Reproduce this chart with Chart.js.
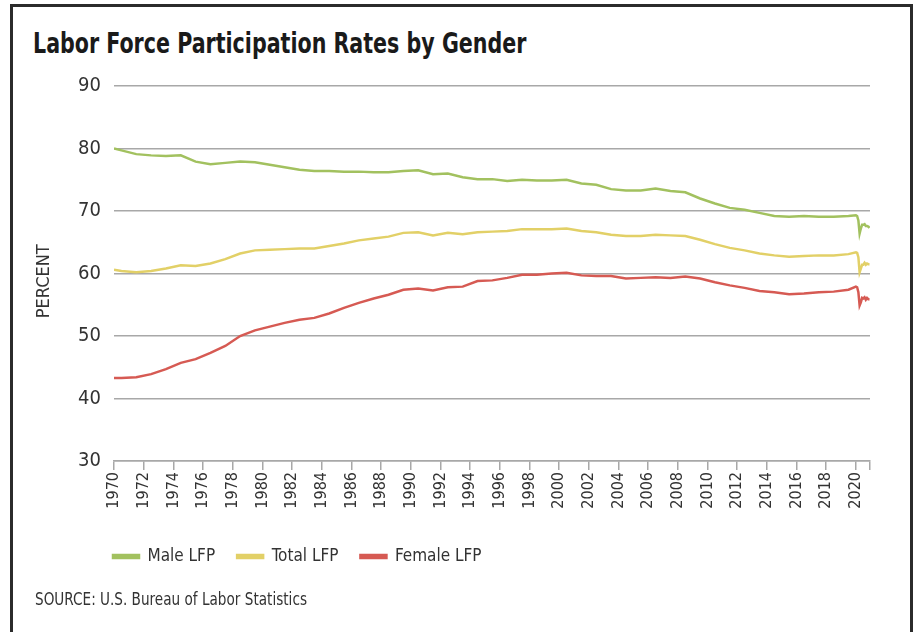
<!DOCTYPE html>
<html lang="en">
<head>
  <meta charset="UTF-8">
  <title>Labor Force Participation Rates by Gender</title>
  <script src="https://cdn.jsdelivr.net/npm/chart.js"></script>
  <style>
    body {
      margin: 0;
      width: 917px;
      height: 632px;
      overflow: hidden;
      background: #fff;
      font-family: 'Liberation Sans Narrow', 'DejaVu Sans Condensed', sans-serif;
      color: #333;
    }
    #frame {
      position: absolute;
      left: 10px;
      top: 4px;
      width: 897px;
      height: 700px;
      border: 3px solid #2b2b2b;
    }
    #title {
      position: absolute;
      left: 33px;
      top: 26px;
      font-size: 29px;
      font-weight: bold;
      color: #1a1a1a;
      margin: 0;
      white-space: nowrap;
      transform: scaleX(0.79);
      transform-origin: left top;
    }
    #source {
      position: absolute;
      left: 35px;
      top: 589px;
      font-size: 17px;
      white-space: nowrap;
      transform: scaleX(0.89);
      transform-origin: left top;
    }
    #wrap {
      position: absolute;
      left: 0;
      top: 0;
      width: 917px;
      height: 632px;
    }
  </style>
</head>
<body>
<div id="frame"></div>
<h1 id="title">Labor Force Participation Rates by Gender</h1>
<div id="wrap"><canvas id="lfp"></canvas></div>
<div id="source">SOURCE: U.S. Bureau of Labor Statistics</div>

<script>
// observation dates (annual averages placed mid-year, monthly for 2020)
const dates = [
  '1970-01',
  '1970-07', '1971-07', '1972-07', '1973-07', '1974-07', '1975-07', '1976-07', '1977-07', '1978-07', '1979-07',
  '1980-07', '1981-07', '1982-07', '1983-07', '1984-07', '1985-07', '1986-07', '1987-07', '1988-07', '1989-07',
  '1990-07', '1991-07', '1992-07', '1993-07', '1994-07', '1995-07', '1996-07', '1997-07', '1998-07', '1999-07',
  '2000-07', '2001-07', '2002-07', '2003-07', '2004-07', '2005-07', '2006-07', '2007-07', '2008-07', '2009-07',
  '2010-07', '2011-07', '2012-07', '2013-07', '2014-07', '2015-07', '2016-07', '2017-07', '2018-07', '2019-07',
  '2020-01', '2020-02', '2020-03', '2020-04', '2020-05', '2020-06',
  '2020-07', '2020-08', '2020-09', '2020-10', '2020-11', '2020-12'
];

const maleLFP = [
  80.0,
  79.7, 79.1, 78.9, 78.8, 78.9, 77.9, 77.5, 77.7, 77.9, 77.8,
  77.4, 77.0, 76.6, 76.4, 76.4, 76.3, 76.3, 76.2, 76.2, 76.4,
  76.5, 75.9, 76.0, 75.4, 75.1, 75.1, 74.8, 75.0, 74.9, 74.9,
  75.0, 74.4, 74.2, 73.5, 73.3, 73.3, 73.6, 73.2, 73.0, 72.0,
  71.2, 70.5, 70.2, 69.7, 69.2, 69.1, 69.2, 69.1, 69.1, 69.2,
  69.3, 69.2, 68.5, 66.4, 67.2, 67.8,
  67.8, 67.9, 67.6, 67.6, 67.5, 67.3
];

const totalLFP = [
  60.6,
  60.4, 60.2, 60.4, 60.8, 61.3, 61.2, 61.6, 62.3, 63.2, 63.7,
  63.8, 63.9, 64.0, 64.0, 64.4, 64.8, 65.3, 65.6, 65.9, 66.5,
  66.6, 66.1, 66.5, 66.3, 66.6, 66.7, 66.8, 67.1, 67.1, 67.1,
  67.2, 66.8, 66.6, 66.2, 66.0, 66.0, 66.2, 66.1, 66.0, 65.4,
  64.7, 64.1, 63.7, 63.2, 62.9, 62.7, 62.8, 62.9, 62.9, 63.1,
  63.4, 63.3, 62.6, 60.2, 60.8, 61.4,
  61.4, 61.7, 61.4, 61.6, 61.5, 61.5
];

const femaleLFP = [
  43.3,
  43.3, 43.4, 43.9, 44.7, 45.7, 46.3, 47.3, 48.4, 50.0, 50.9,
  51.5, 52.1, 52.6, 52.9, 53.6, 54.5, 55.3, 56.0, 56.6, 57.4,
  57.6, 57.3, 57.8, 57.9, 58.8, 58.9, 59.3, 59.8, 59.8, 60.0,
  60.1, 59.7, 59.6, 59.6, 59.2, 59.3, 59.4, 59.3, 59.5, 59.2,
  58.6, 58.1, 57.7, 57.2, 57.0, 56.7, 56.8, 57.0, 57.1, 57.4,
  57.9, 57.8, 57.0, 54.9, 55.4, 56.1,
  56.0, 56.2, 55.8, 56.1, 55.9, 55.9
];

const yearTicks = [1970, 1972, 1974, 1976, 1978, 1980, 1982, 1984, 1986, 1988, 1990, 1992, 1994,
  1996, 1998, 2000, 2002, 2004, 2006, 2008, 2010, 2012, 2014, 2016, 2018, 2020];
const axisEnd = 2020.95;

function toYear(d) {
  const [y, m] = d.split('-').map(Number);
  return y + (m - 1) / 12;
}
function points(vals) {
  return vals.map((v, i) => ({ x: toYear(dates[i]), y: v }));
}

const FONT = "'Liberation Sans Narrow', 'DejaVu Sans Condensed', sans-serif";
const GRID = '#a8a8a8';

// shift the legend so it lines up with the plot's left edge
const legendShift = {
  id: 'legendShift',
  beforeDraw(chart) {
    const lg = chart.legend;
    if (lg) lg.left = chart.chartArea.left - lg.options.labels.padding - 1;
  }
};

new Chart(document.getElementById('lfp'), {
  type: 'line',
  data: {
    datasets: [
      { label: 'Male LFP', data: points(maleLFP), borderColor: '#a2c15f', backgroundColor: '#a2c15f' },
      { label: 'Total LFP', data: points(totalLFP), borderColor: '#e2d067', backgroundColor: '#e2d067' },
      { label: 'Female LFP', data: points(femaleLFP), borderColor: '#d65a53', backgroundColor: '#d65a53' }
    ]
  },
  options: {
    responsive: true,
    maintainAspectRatio: false,
    animation: false,
    layout: { padding: { left: 30, right: 47, top: 86, bottom: 57 } },
    elements: {
      point: { radius: 0 },
      line: { borderWidth: 2.5, tension: 0 }
    },
    scales: {
      x: {
        type: 'linear',
        min: 1970,
        max: axisEnd,
        afterBuildTicks: s => { s.ticks = yearTicks.concat([axisEnd]).map(v => ({ value: v })); },
        afterFit: s => { s.height = 65; },
        grid: { drawOnChartArea: false, drawTicks: true, tickLength: 9, color: GRID, lineWidth: 1.5 },
        border: { display: true, color: GRID, width: 1.5 },
        ticks: {
          autoSkip: false,
          minRotation: 90,
          maxRotation: 90,
          padding: 2,
          color: '#333',
          font: { family: FONT, size: 16 },
          callback: v => (Number.isInteger(v) ? String(v) : '')
        }
      },
      y: {
        min: 30,
        max: 90,
        afterFit: s => { s.width = 84; },
        grid: { drawTicks: false, color: GRID, lineWidth: 1.5 },
        border: { display: false },
        ticks: {
          stepSize: 10,
          padding: 13,
          color: '#333',
          font: { family: FONT, size: 20 }
        },
        title: {
          display: true,
          text: 'PERCENT   ',
          color: '#333',
          padding: { top: 4, bottom: 0 },
          font: { family: FONT, size: 18 }
        }
      }
    },
    plugins: {
      legend: {
        position: 'bottom',
        align: 'start',
        labels: {
          boxWidth: 26,
          boxHeight: 3,
          padding: 22,
          color: '#333',
          font: { family: FONT, size: 17 }
        }
      },
      tooltip: { enabled: false }
    }
  },
  plugins: [legendShift]
});
</script>
</body>
</html>
